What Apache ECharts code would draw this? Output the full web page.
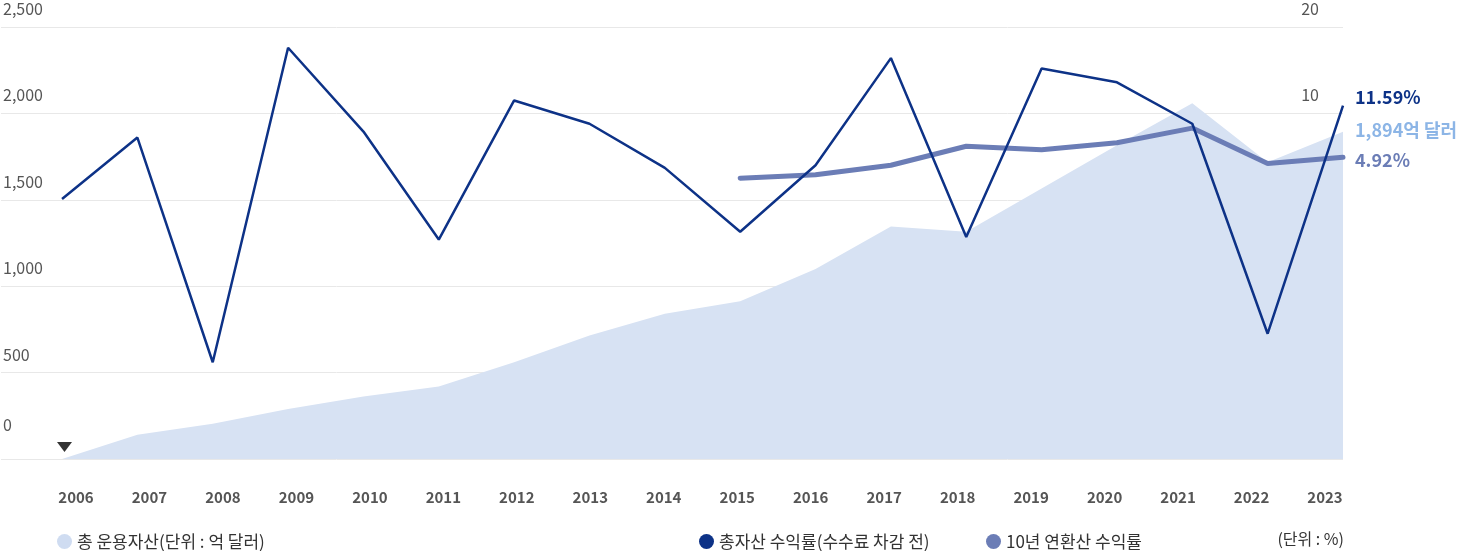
<!DOCTYPE html>
<html>
<head>
<meta charset="utf-8">
<script src="https://cdn.jsdelivr.net/npm/echarts@6/dist/echarts.min.js"></script>
<style>
  html, body { margin: 0; padding: 0; background: #fff; }
  #chart { width: 1462px; height: 551px; }
</style>
</head>
<body>
<div id="chart"></div>
<script>
// 연도
var years = [2006, 2007, 2008, 2009, 2010, 2011, 2012, 2013, 2014, 2015, 2016, 2017, 2018, 2019, 2020, 2021, 2022, 2023];
// 총 운용자산 (억 달러)
var assets = [0, 140, 204, 290, 362, 420, 560, 715, 840, 913, 1100, 1345, 1315, 1565, 1815, 2059, 1718, 1894];
// 총자산 수익률 (%)
var totalReturn = [0.1, 7.2, -18.8, 17.6, 7.9, -4.6, 11.5, 8.8, 3.7, -3.7, 4.0, 16.4, -4.3, 15.2, 13.6, 8.8, -15.5, 10.9];
// 10년 연환산 수익률 (%) - 2015년부터
var tenYear = [null, null, null, null, null, null, null, null, null, 2.5, 2.9, 4.0, 6.2, 5.8, 6.6, 8.3, 4.2, 4.92];
// 끝값 라벨
var endTexts = ['1,894억 달러', '11.59%', '4.92%'];
var seriesNames = ['총 운용자산(단위 : 억 달러)', '총자산 수익률(수수료 차감 전)', '10년 연환산 수익률'];

var FONT = '"Noto Sans CJK KR", "Noto Sans", sans-serif';

function pairs(vals) {
  return years.map(function (y, i) { return [y, vals[i]]; });
}

var chart = echarts.init(document.getElementById('chart'));

var legendText = { fontSize: 17, color: '#333', fontFamily: FONT };

var options = {
  animation: false,
  textStyle: { fontFamily: FONT },
  grid: [
    { left: 0, right: 119, top: 27, bottom: 92 },
    { left: 76, right: 137, top: 461, height: 1 }
  ],
  xAxis: [
    {
      type: 'value', gridIndex: 0,
      min: 2005.19, max: 2023,
      show: false
    },
    {
      type: 'category', gridIndex: 1,
      data: years, boundaryGap: false,
      axisLine: { show: false }, axisTick: { show: false },
      axisLabel: { margin: 28, fontSize: 15, fontWeight: 'bold', color: '#555', fontFamily: FONT }
    }
  ],
  yAxis: [
    {
      type: 'value', gridIndex: 0, position: 'left',
      min: 0, max: 2500, interval: 500,
      axisLine: { show: false }, axisTick: { show: false },
      splitLine: { lineStyle: { color: '#e8e8e8', width: 1 } },
      axisLabel: {
        inside: true, margin: 2, align: 'left', verticalAlign: 'bottom',
        padding: [0, 0, 10, 0],
        fontSize: 16, color: '#555', fontFamily: FONT,
        formatter: function (v) {
          if (v === 0) return '{z|0}';
          return v.toLocaleString('en-US');
        },
        rich: { z: { fontSize: 16, color: '#555', padding: [0, 0, 16, 0], fontFamily: FONT } }
      }
    },
    {
      type: 'value', gridIndex: 0, position: 'right',
      min: -30, max: 20, interval: 10,
      axisLine: { show: false }, axisTick: { show: false },
      splitLine: { show: false },
      axisLabel: {
        inside: true, margin: 24, align: 'right', verticalAlign: 'bottom',
        padding: [0, 0, 10, 0],
        fontSize: 16, color: '#555', fontFamily: FONT,
        formatter: function (v) { return v === -30 ? '' : String(v); }
      }
    },
    { type: 'value', gridIndex: 1, show: false }
  ],
  legend: [
    {
      data: [seriesNames[0]], left: 52, top: 528,
      icon: 'circle', itemWidth: 15, itemHeight: 15, itemGap: 8,
      textStyle: legendText
    },
    {
      data: [seriesNames[1]], left: 694, top: 528,
      icon: 'circle', itemWidth: 15, itemHeight: 15,
      textStyle: legendText
    },
    {
      data: [seriesNames[2]], left: 981, top: 528,
      icon: 'circle', itemWidth: 15, itemHeight: 15,
      textStyle: legendText
    }
  ],
  graphic: [
    {
      type: 'text', right: 118, top: 531,
      style: { text: '(단위 : %)', font: '16px ' + FONT, fill: '#333' }
    },
    {
      type: 'polygon',
      shape: { points: [[57, 442], [72, 442], [64.5, 452]] },
      style: { fill: '#333' }
    }
  ],
  series: [
    {
      name: seriesNames[0], type: 'line',
      xAxisIndex: 0, yAxisIndex: 0,
      data: pairs(assets),
      symbol: 'none',
      lineStyle: { width: 0 },
      itemStyle: { color: '#cfdcf1' },
      areaStyle: { color: '#d7e2f3', opacity: 1 },
      endLabel: {
        show: true, distance: 12, offset: [0, -2],
        formatter: function () { return endTexts[0]; },
        color: '#8cb5e6', fontSize: 18, fontWeight: 'bold', fontFamily: FONT
      },
      z: 1
    },
    {
      name: seriesNames[1], type: 'line',
      xAxisIndex: 0, yAxisIndex: 1,
      data: pairs(totalReturn),
      symbol: 'none',
      lineStyle: { width: 2.5, color: '#0d3287' },
      itemStyle: { color: '#0d3287' },
      endLabel: {
        show: true, distance: 12, offset: [0, -8],
        formatter: function () { return endTexts[1]; },
        color: '#0d3287', fontSize: 18, fontWeight: 'bold', fontFamily: FONT
      },
      z: 3
    },
    {
      name: seriesNames[2], type: 'line',
      xAxisIndex: 0, yAxisIndex: 1,
      data: pairs(tenYear),
      symbol: 'none',
      lineStyle: { width: 5, color: '#6b7db6', cap: 'round' },
      itemStyle: { color: '#6b7db6' },
      endLabel: {
        show: true, distance: 12, offset: [0, 3],
        formatter: function () { return endTexts[2]; },
        color: '#6b7db6', fontSize: 18, fontWeight: 'bold', fontFamily: FONT
      },
      z: 2
    }
  ]
};

chart.setOption(options);
</script>
</body>
</html>
